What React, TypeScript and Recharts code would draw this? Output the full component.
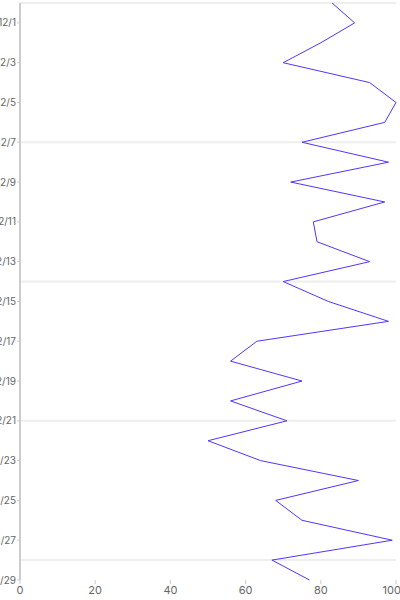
import { LineChart, Line, XAxis, YAxis, ReferenceLine } from 'recharts'

const days = [
  '11/30', '12/1', '12/2', '12/3', '12/4', '12/5', '12/6', '12/7', '12/8', '12/9',
  '12/10', '12/11', '12/12', '12/13', '12/14', '12/15', '12/16', '12/17', '12/18', '12/19',
  '12/20', '12/21', '12/22', '12/23', '12/24', '12/25', '12/26', '12/27', '12/28', '12/29',
]

const values = [
  83, 89, 80, 70, 93, 100, 97, 75, 98, 72,
  97, 78, 79, 93, 70, 82, 98, 63, 56, 75,
  56, 71, 50, 64, 90, 68, 75, 99, 67, 77,
]

const dayTicks = days.filter((_, i) => i % 2 === 1)
const weekLines = ['11/30', '12/7', '12/14', '12/21', '12/28']
const valueTicks = [0, 20, 40, 60, 80, 100]

const data = days.map((day, i) => ({ day, value: values[i] }))

export default function App() {
  return (
    <div style={{ position: 'absolute', left: 0, top: 0, fontFamily: 'Inter, sans-serif' }}>
      <LineChart
        width={400}
        height={600}
        data={data}
        layout="vertical"
        margin={{ top: 3, right: 4, bottom: 0, left: 0 }}
      >
        {weekLines.map((d) => (
          <ReferenceLine key={d} y={d} stroke="#eee" strokeWidth={2} />
        ))}
        <XAxis
          type="number"
          domain={[0, 100]}
          ticks={valueTicks}
          height={20}
          axisLine={false}
          tickSize={4}
          tick={{ fill: '#666', fontSize: 11 }}
          tickLine={{ stroke: '#ccc' }}
        />
        <YAxis
          type="category"
          dataKey="day"
          ticks={dayTicks}
          interval={0}
          width={20}
          tickSize={3}
          tickMargin={1}
          tick={{ fill: '#666', fontSize: 10 }}
          axisLine={{ stroke: '#ccc', strokeWidth: 2 }}
          tickLine={{ stroke: '#ccc' }}
        />
        <Line
          type="linear"
          dataKey="value"
          stroke="#5533ff"
          strokeWidth={1}
          dot={false}
          isAnimationActive={false}
        />
      </LineChart>
    </div>
  )
}
